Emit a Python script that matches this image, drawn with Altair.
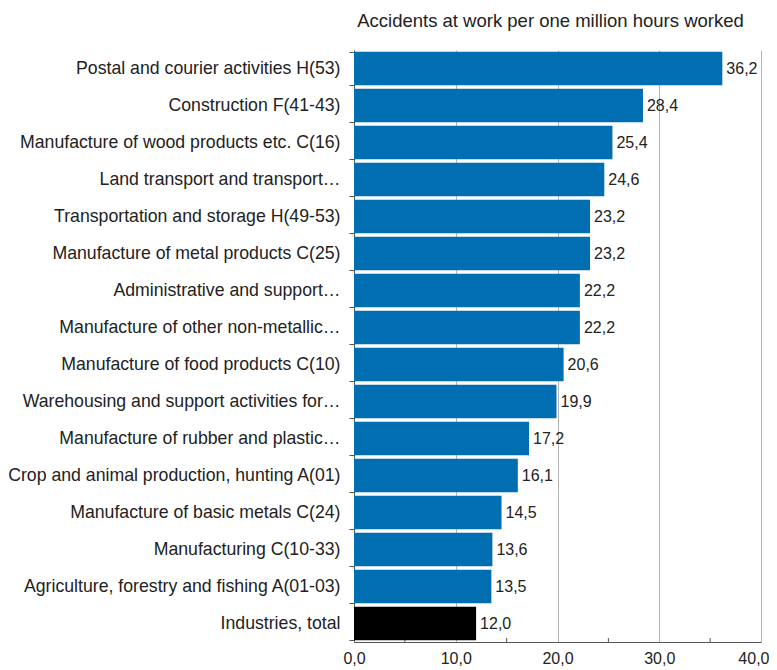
import altair as alt
import pandas as pd

categories = [
    "Postal and courier activities H(53)",
    "Construction F(41-43)",
    "Manufacture of wood products etc. C(16)",
    "Land transport and transport…",
    "Transportation and storage H(49-53)",
    "Manufacture of metal products C(25)",
    "Administrative and support…",
    "Manufacture of other non-metallic…",
    "Manufacture of food products C(10)",
    "Warehousing and support activities for…",
    "Manufacture of rubber and plastic…",
    "Crop and animal production, hunting A(01)",
    "Manufacture of basic metals C(24)",
    "Manufacturing C(10-33)",
    "Agriculture, forestry and fishing A(01-03)",
    "Industries, total",
]
values = [36.2, 28.4, 25.4, 24.6, 23.2, 23.2, 22.2, 22.2, 20.6, 19.9,
          17.2, 16.1, 14.5, 13.6, 13.5, 12.0]
x_ticks = [0, 10, 20, 30, 40]
minor_ticks = [5, 15, 25, 35]

FONT = "Liberation Sans"
W, H = 407, 592

df = pd.DataFrame({"category": categories, "value": values})
ticks_df = pd.DataFrame({"value": minor_ticks})

x_scale = alt.Scale(domain=[0, 40], nice=False)
fmt = "replace(format(datum.value, '.1f'), '.', ',')"

base = alt.Chart(df)

minor = alt.Chart(ticks_df).mark_rule(color="#555", strokeWidth=1).encode(
    x=alt.X("value:Q", scale=x_scale, title=None),
    y=alt.value(H),
    y2=alt.value(H - 4),
)

bars = base.mark_bar().encode(
    y=alt.Y(
        "category:N",
        sort=categories,
        scale=alt.Scale(paddingInner=0.1, paddingOuter=0.05),
        axis=alt.Axis(
            title=None, labelLimit=400, labelFont=FONT, labelFontSize=17.7,
            labelColor="#222", labelPadding=9, tickBand="extent", tickSize=5,
            tickColor="#555", domainColor="#555",
        ),
    ),
    x=alt.X(
        "value:Q", scale=x_scale, title=None,
        axis=alt.Axis(
            values=x_ticks, labelExpr=fmt, grid=True, gridColor="#b4b4b4",
            tickSize=0, labelFlush=False, labelPadding=8, domainColor="#555",
            labelFont=FONT, labelFontSize=16, labelColor="#222",
            labelAlign={"condition": {"test": "datum.value == 40", "value": "right"},
                        "value": "center"},
            labelOffset={"condition": {"test": "datum.value == 40", "value": 8},
                         "value": 0},
        ),
    ),
    color=alt.condition(
        "datum.category == 'Industries, total'",
        alt.value("#000000"),
        alt.value("#006eb0"),
    ),
)

labels = base.transform_calculate(
    label=fmt
).mark_text(align="left", baseline="middle", dx=4, font=FONT,
            fontSize=16, color="#222").encode(
    y=alt.Y("category:N", sort=categories),
    x=alt.X("value:Q", scale=x_scale),
    text="label:N",
)

chart = alt.layer(minor, bars, labels).properties(
    width=W,
    height=H,
    autosize=alt.AutoSizeParams(type="none"),
    padding={"left": 346, "top": 42, "right": 8, "bottom": 28},
    title=alt.TitleParams(
        "Accidents at work per one million hours worked",
        font=FONT, fontSize=18.5, fontWeight="normal", color="#222",
        frame="group", anchor="middle", offset=11, dx=-7,
    ),
).configure_view(stroke=None)

chart.save("out.html", embed_options={"renderer": "svg", "actions": False})
